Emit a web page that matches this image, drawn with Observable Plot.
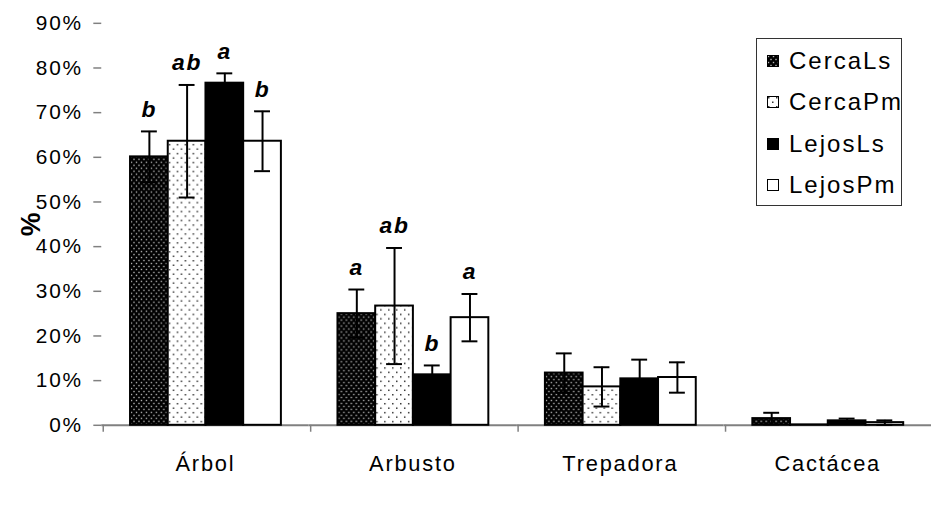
<!DOCTYPE html>
<html>
<head>
<meta charset="utf-8">
<script src="https://cdn.jsdelivr.net/npm/d3@7"></script>
<script src="https://cdn.jsdelivr.net/npm/@observablehq/plot@0.6"></script>
<style>
  html, body { margin: 0; padding: 0; background: #fff; overflow: hidden; }
  #wrap { position: relative; width: 931px; height: 526px; overflow: hidden; }
  #chart svg text { letter-spacing: 1.8px; }
  #legend {
    position: absolute; left: 756px; top: 38px; width: 146px; height: 168px;
    box-sizing: border-box; border: 1px solid #333; background: #fff;
    font-family: "Liberation Sans", Arial, sans-serif; font-size: 24px; letter-spacing: 2px;
    padding-top: 1px;
  }
  .lrow { height: 41.5px; display: flex; align-items: center; }
  .lrow svg { margin-left: 10px; margin-right: 10px; flex: none; }
</style>
</head>
<body>
<svg width="0" height="0" style="position:absolute">
  <defs>
    <pattern id="pat-cercals" patternUnits="userSpaceOnUse" width="5" height="6">
      <rect width="5" height="6" fill="#000"></rect>
      <rect x="0.8" y="0.8" width="1.4" height="1.4" fill="#b8b8b8"></rect>
      <rect x="3.3" y="3.8" width="1.4" height="1.4" fill="#b8b8b8"></rect>
    </pattern>
    <pattern id="pat-cercapm" patternUnits="userSpaceOnUse" width="8" height="9">
      <rect width="8" height="9" fill="#fff"></rect>
      <rect x="1" y="1" width="1.5" height="1.5" fill="#333"></rect>
      <rect x="5" y="5.5" width="1.5" height="1.5" fill="#333"></rect>
    </pattern>
  </defs>
</svg>
<div id="wrap">
  <div id="chart"></div>
  <div id="legend"></div>
</div>
<script>
// ---- data (percent) ----
const categories = ["Árbol", "Arbusto", "Trepadora", "Cactácea"];
const seriesNames = ["CercaLs", "CercaPm", "LejosLs", "LejosPm"];
const cercaLsValues = [60.1, 25.0, 11.7, 1.5];
const cercaPmValues = [63.6, 26.7, 8.6, 0.1];
const lejosLsValues = [76.6, 11.3, 10.4, 1.0];
const lejosPmValues = [63.6, 24.1, 10.7, 0.6];
const cercaLsErrors = [5.7, 5.4, 4.4, 1.3];
const cercaPmErrors = [12.6, 13.0, 4.4, 0];
const lejosLsErrors = [2.2, 2.1, 4.3, 0.5];
const lejosPmErrors = [6.7, 5.3, 3.4, 0.5];
const cercaLsLetters = ["b", "a", "", ""];
const cercaPmLetters = ["ab", "ab", "", ""];
const lejosLsLetters = ["a", "b", "", ""];
const lejosPmLetters = ["b", "a", "", ""];
const yTicks = [0, 0.1, 0.2, 0.3, 0.4, 0.5, 0.6, 0.7, 0.8, 0.9];

const seriesFills = ["url(#pat-cercals)", "url(#pat-cercapm)", "#000", "#fff"];
const valueTable = [cercaLsValues, cercaPmValues, lejosLsValues, lejosPmValues];
const errorTable = [cercaLsErrors, cercaPmErrors, lejosLsErrors, lejosPmErrors];
const letterTable = [cercaLsLetters, cercaPmLetters, lejosLsLetters, lejosPmLetters];

const rows = [];
categories.forEach((c, i) => seriesNames.forEach((s, j) => rows.push({
  category: c, series: s,
  value: valueTable[j][i] / 100,
  err: errorTable[j][i] / 100,
  letter: letterTable[j][i]
})));
const errRows = rows.filter(d => d.err > 0);
const letterRows = rows.filter(d => d.letter);
const boundaryRows = categories.map(c => ({category: c, series: seriesNames[0]}));

const chart = Plot.plot({
  width: 938,
  height: 526,
  marginLeft: 101,
  marginRight: 0,
  marginTop: 23,
  marginBottom: 98,
  style: {fontFamily: "'Liberation Sans', Arial, sans-serif", fontSize: "21px", color: "#000", background: "transparent", overflow: "visible"},
  fx: {domain: categories, padding: 0, label: null},
  x: {domain: seriesNames, paddingInner: 0, paddingOuter: 0.7, axis: null},
  y: {domain: [0, 0.9], label: null},
  color: {type: "ordinal", domain: seriesNames, range: seriesFills},
  marks: [
    Plot.ruleY([0], {stroke: "#808080", strokeWidth: 2}),
    Plot.ruleX(boundaryRows, {fx: "category", x: "series", y1: 0, y2: 0, dx: -46.5, insetBottom: -7, stroke: "#808080", strokeWidth: 1.5}),
    Plot.barY(rows, {fx: "category", x: "series", y: "value", fill: "series", stroke: "#000", strokeWidth: 2}),
    Plot.ruleX(errRows, {fx: "category", x: "series", y1: d => d.value - d.err, y2: d => d.value + d.err, stroke: "#000", strokeWidth: 2}),
    Plot.tickY(errRows, {fx: "category", x: "series", y: d => d.value + d.err, insetLeft: 11, insetRight: 11, stroke: "#000", strokeWidth: 2}),
    Plot.tickY(errRows, {fx: "category", x: "series", y: d => d.value - d.err, insetLeft: 11, insetRight: 11, stroke: "#000", strokeWidth: 2}),
    Plot.text(letterRows, {fx: "category", x: "series", y: d => d.value + d.err, text: "letter", dy: -22, fontWeight: "bold", fontStyle: "italic", fontSize: 23}),
    Plot.axisY({ticks: yTicks, tickFormat: d3.format(".0%"), tickSize: 8, tickPadding: 11, stroke: "#808080", strokeWidth: 1.5, line: true, fontSize: 21, label: "%", labelAnchor: "center", labelArrow: "none", labelOffset: 81}),
    Plot.axisFx({anchor: "bottom", tickSize: 0, tickPadding: 30, fontSize: 22, label: null})
  ]
});
document.getElementById("chart").appendChild(chart);

// style the y-axis title
d3.select(chart).selectAll('g[aria-label="y-axis label"] text')
  .style("font-weight", "bold").style("font-size", "27px").style("letter-spacing", "0px");

// legend
const legend = d3.select("#legend");
seriesNames.forEach((s, j) => {
  const row = legend.append("div").attr("class", "lrow");
  const sw = row.append("svg").attr("width", 12).attr("height", 12);
  sw.append("rect").attr("x", 0.5).attr("y", 0.5).attr("width", 11).attr("height", 11)
    .attr("fill", seriesFills[j]).attr("stroke", "#000").attr("stroke-width", 1);
  row.append("span").text(s);
});
</script>
</body>
</html>
